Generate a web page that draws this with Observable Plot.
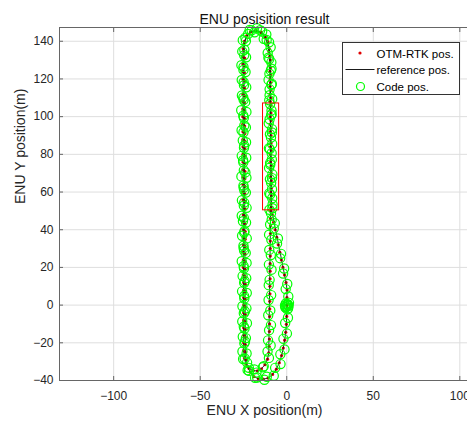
<!DOCTYPE html>
<html><head><meta charset="utf-8">
<script src="https://cdn.jsdelivr.net/npm/d3@7"></script>
<script src="https://cdn.jsdelivr.net/npm/@observablehq/plot@0.6"></script>
<style>
html,body{margin:0;padding:0;background:#fff;overflow:hidden;width:467px;height:425px}
#wrap{position:relative;width:470px;height:425px}
#legend{position:absolute;left:342px;top:42px}
</style></head><body><div id="wrap"></div>
<script>
const title = "ENU posisition result";
const xLabel = "ENU X position(m)";
const yLabel = "ENU Y position(m)";
const xTicks = [-100, -50, 0, 50, 100];
const yTicks = [-40, -20, 0, 20, 40, 60, 80, 100, 120, 140];
const xDomain = [-131.3, 105.6];
const yDomain = [-40, 147.3];
const legendLabels = ["OTM-RTK pos.", "reference pos.", "Code pos."];

// highlighted window (red box)
const boxX = [-13.7, -4.4];
const boxY = [50.3, 107];

// OTM-RTK positions
const rtkX = [
  0, 0, 0,
  0.1, 0.2, -0.4, -1.3, -2.2, -3.1, -4.0, -4.9, -5.8, -6.7, -7.6, -8.4, -9.0,
  -9.2, -9.2, -9.3, -9.3, -9.3, -9.3, -9.4, -9.4, -9.4, -9.4, -9.5, -9.5, -9.5, -9.5, -9.6, -9.6, -9.6, -9.7, -9.7, -9.8,
  -10.1, -10.9, -12.4, -14.8, -17.8, -20.7, -23.0, -24.5, -25.2,
  -25.4, -25.4, -25.4, -25.4, -25.4, -25.4, -25.4, -25.4, -25.4, -25.4,
  -25.3, -25.3, -25.3, -25.3, -25.3, -25.3, -25.3, -25.3, -25.3, -25.3,
  -25.1, -25.1, -25.1, -25.1, -25.1, -25.1, -25.1, -25.1, -25.1, -25.1,
  -24.9, -24.9, -24.9, -24.9, -24.9, -24.9, -24.9, -24.9, -24.9, -24.9,
  -24.5, -23.6, -21.8, -19.4, -16.9, -14.6, -12.6, -11.1, -10.4,
  -10.1, -10.0, -10.0, -9.9, -9.9, -9.8, -9.8, -9.7, -9.7, -9.6, -9.6, -9.6, -9.5, -9.5, -9.5, -9.4, -9.4, -9.4, -9.3,
  -8.9, -8.9, -8.9, -8.9, -9.0, -9.0, -9.0, -9.0, -9.0, -9.1, -9.1, -9.1, -9.1, -9.2, -9.2, -9.2, -9.3, -9.3, -9.4, -9.5,
  -10.3, -11.0, -12.5, -14.9, -17.9, -21.0, -23.2, -24.4, -24.9,
  -24.3, -24.3, -24.3, -24.3, -24.3, -24.3, -24.3, -24.3, -24.3, -24.3,
  -24.2, -24.2, -24.2, -24.2, -24.2, -24.2, -24.2, -24.2, -24.2, -24.2,
  -24.0, -24.0, -24.0, -24.0, -24.0, -24.0, -24.0, -24.0, -24.0, -24.0,
  -23.9, -23.9, -23.9, -23.9, -23.9, -23.9, -23.9, -23.9, -23.9, -23.9,
  -23.6, -22.6, -21.1, -19.0, -16.4, -13.6, -10.8, -8.2, -6.0, -4.3, -3.0, -2.0, -1.2, -0.6, -0.2, 0.0, 0.1, 0.0
];
const rtkY = [
  0, 0, 0,
  4, 8, 12, 16, 20, 24, 28, 32, 36, 40, 44, 48, 52,
  56, 60, 64, 68, 72, 76, 80, 84, 88, 92, 96, 100, 104, 108, 112, 116, 120, 124, 128, 132,
  136, 139.8, 142.8, 144.9, 145.8, 145.1, 143.0, 139.9, 136.2,
  132, 128, 124, 120, 116, 112, 108, 104, 100, 96,
  92, 88, 84, 80, 76, 72, 68, 64, 60, 56,
  52, 48, 44, 40, 36, 32, 28, 24, 20, 16,
  12, 8, 4, 0, -4, -8, -12, -16, -20, -24,
  -28, -31.3, -33.6, -34.8, -34.9, -33.8, -31.6, -28.7, -25.3,
  -22, -18, -14, -10, -6, -2, 2, 6, 10, 14, 18, 22, 26, 30, 34, 38, 42, 46, 50,
  54, 58, 62, 66, 70, 74, 78, 82, 86, 90, 94, 98, 102, 106, 110, 114, 118, 122, 126, 130,
  134.5, 138.6, 142.0, 144.4, 145.5, 144.9, 142.6, 139.2, 135.2,
  131, 127, 123, 119, 115, 111, 107, 103, 99, 95,
  91, 87, 83, 79, 75, 71, 67, 63, 59, 55,
  51, 47, 43, 39, 35, 31, 27, 23, 19, 15,
  11, 7, 3, -1, -5, -9, -13, -17, -21, -25,
  -29, -32.6, -35.6, -37.9, -39.1, -39.3, -38.7, -36.8, -34.0, -30.6, -26.8, -22.8, -18.6, -14.4, -10.2, -6.0, -2.0, 0.0
];

// reference trajectory
const refX = [0, 0.2, -0.4, -9.0, -9.8, -10.1, -10.9, -12.4, -14.8, -17.8, -20.7, -23.0, -24.5, -25.3, -24.9, -24.5, -23.6, -21.8, -19.4, -16.9, -14.6, -12.6, -11.1, -10.4, -9.3, -8.9, -9.5, -10.3, -11.0, -12.5, -14.9, -17.9, -21.0, -23.2, -24.4, -24.7, -23.9, -23.6, -22.6, -21.1, -19.0, -16.4, -13.6, -10.8, -8.2, -6.0, -4.3, -3.0, -2.0, -1.2, -0.6, -0.2, 0.0];
const refY = [0, 8, 12, 52, 132, 136, 139.8, 142.8, 144.9, 145.8, 145.1, 143.0, 139.9, 134, -24, -28, -31.3, -33.6, -34.8, -34.9, -33.8, -31.6, -28.7, -25.3, 50, 54, 130, 134.5, 138.6, 142.0, 144.4, 145.5, 144.9, 142.6, 139.2, 133, -25, -29, -32.6, -35.6, -37.9, -39.1, -39.3, -38.7, -36.8, -34.0, -30.6, -26.8, -22.8, -18.6, -14.4, -10.2, 0];

// Code positions
const codeX = [
  0.2, -0.8, 1.1, 0.4, -0.5, 1.3, 0.0, 0.8, -1.0, 0.5,
  0.9, -0.6, 0.3, -2.1, -1.5, -3.8, -3.3, -5.6, -5.1, -7.5, -6.9, -9.1, -8.3,
  -8.4, -10.1, -9.0, -8.5, -10.2, -9.6, -8.7, -10.3, -9.1, -8.6, -10.4, -9.0, -8.8, -10.1, -9.9, -8.9, -10.5, -9.2, -8.9, -10.6,
  -9.3, -11.6, -11.8, -15.4, -17.2, -21.4, -22.3, -25.4, -24.5,
  -24.6, -26.2, -25.0, -26.0, -24.7, -25.9, -24.9, -26.3, -25.1, -24.5,
  -26.1, -25.4, -24.6, -26.0, -25.2, -24.8, -26.2, -25.0, -24.5, -25.9,
  -24.8, -26.0, -25.3, -24.4, -25.8, -25.0, -24.6, -26.0, -24.9, -25.5,
  -24.3, -25.8, -24.6, -25.6, -24.2, -25.7, -24.8, -25.4, -24.1, -25.6,
  -25.2, -22.9, -22.6, -18.7, -17.5, -13.8, -13.3, -10.3, -11.1,
  -9.3, -10.8, -10.2, -9.1, -10.7, -9.5, -10.5, -9.0, -10.4, -9.9, -8.8, -10.3, -9.2, -10.1, -8.9, -10.2, -9.6, -8.7, -10.0,
  -8.2, -9.6, -8.5, -9.7, -8.3, -9.5, -8.6, -9.8, -8.4, -9.7, -8.5, -9.9, -8.7, -9.6, -8.4, -9.9, -8.6, -10.0, -8.8, -10.1,
  -11.0, -10.2, -13.3, -14.2, -18.6, -20.3, -23.9, -23.6, -25.7,
  -23.5, -25.0, -23.8, -24.9, -23.4, -25.1, -24.0, -23.3, -24.8, -23.6,
  -25.0, -23.5, -24.7, -23.4, -25.1, -23.9, -23.3, -24.9, -23.6, -24.6,
  -23.2, -24.8, -23.5, -24.6, -23.1, -24.9, -23.7, -23.2, -24.7, -23.4,
  -24.6, -23.1, -24.5, -23.3, -24.8, -23.0, -24.4, -23.6, -24.5, -23.2,
  -24.3, -21.9, -21.8, -18.3, -17.1, -12.9, -11.5, -7.5, -6.7, -3.6, -3.7, -1.3, -1.9, 0.1, -0.9, 0.7, -0.6, 0.6
];
const codeY = [
  0.5, -1.2, -0.4, -2.3, 0.9, 1.2, -0.8, -1.6, -0.2, 0.1,
  4.6, 8.5, 11.2, 16.8, 19.4, 24.9, 27.2, 32.7, 35.4, 40.6, 43.5, 48.8, 51.4,
  56.7, 59.3, 64.9, 67.4, 72.8, 75.5, 80.6, 83.2, 88.9, 91.6, 96.5, 100.8, 103.3, 108.7, 111.4, 116.9, 119.5, 124.4, 128.8, 131.3,
  136.8, 140.7, 143.6, 145.9, 146.9, 146.0, 143.9, 140.6, 135.5,
  132.6, 127.3, 124.8, 119.5, 116.7, 111.2, 108.9, 103.4, 100.5, 95.3,
  92.8, 87.4, 84.6, 79.2, 76.9, 71.5, 68.3, 63.4, 60.8, 55.6,
  52.7, 47.4, 44.5, 39.2, 36.8, 31.5, 28.9, 23.3, 20.6, 15.4,
  12.7, 7.3, 4.8, -0.6, -3.4, -8.7, -11.5, -16.8, -19.3, -24.6,
  -28.6, -30.5, -34.5, -34.1, -35.8, -33.0, -32.4, -28.0, -24.6,
  -21.4, -18.7, -13.3, -10.6, -5.4, -2.8, 2.7, 5.3, 10.6, 13.4, 18.8, 21.5, 26.6, 29.3, 34.7, 37.4, 42.8, 45.3, 50.6,
  53.4, 58.7, 61.5, 66.8, 69.4, 74.6, 77.3, 82.8, 85.5, 90.7, 93.4, 98.6, 101.3, 106.7, 109.4, 114.5, 117.3, 122.8, 125.4, 130.6,
  133.8, 139.5, 141.3, 145.2, 144.8, 145.8, 141.9, 140.1, 134.6,
  131.5, 126.4, 123.7, 118.3, 115.6, 110.2, 107.8, 102.5, 99.4, 94.3,
  91.7, 86.4, 83.5, 78.2, 75.8, 70.4, 67.6, 62.3, 59.7, 54.4,
  51.6, 46.3, 43.8, 38.5, 35.4, 30.2, 27.7, 22.4, 19.5, 14.3,
  11.8, 6.4, 3.5, -1.7, -4.3, -9.6, -12.4, -17.5, -20.3, -25.7,
  -28.3, -33.3, -34.9, -38.6, -38.4, -39.6, -38.0, -37.5, -33.3, -31.3, -26.1, -23.5, -17.9, -15.1, -9.5, -6.7, -1.3, 0.4
];

const zip = (xs, ys) => xs.slice(0, Math.min(xs.length, ys.length)).map((x, i) => ({x, y: ys[i]}));
const rtk = zip(rtkX, rtkY);
const ref = zip(refX, refY);
const code = zip(codeX, codeY);
const box = [{x1: boxX[0], x2: boxX[1], y1: boxY[0], y2: boxY[1]}];

const font = "'Liberation Sans', Arial, Helvetica, sans-serif";
const chart = Plot.plot({
  width: 470, height: 425,
  marginLeft: 59, marginRight: 1, marginTop: 27, marginBottom: 45,
  x: {domain: xDomain},
  y: {domain: yDomain},
  style: {fontFamily: font, fontSize: "12px", color: "#262626", background: "#fff", overflow: "visible"},
  marks: [
    Plot.gridX(xTicks, {stroke: "#dedede", strokeOpacity: 1}),
    Plot.gridY(yTicks, {stroke: "#dedede", strokeOpacity: 1}),
    Plot.dot(rtk, {x: "x", y: "y", r: 1.6, fill: "#e00000", stroke: null}),
    Plot.line(ref, {x: "x", y: "y", stroke: "#1a1a1a", strokeWidth: 0.9}),
    Plot.dot(code, {x: "x", y: "y", r: 4.6, stroke: "#00ff00", strokeWidth: 1.2, fill: "none"}),
    Plot.rect(box, {x1: "x1", x2: "x2", y1: "y1", y2: "y2", stroke: "#ff0000", fill: "none", strokeWidth: 1}),
    Plot.frame({stroke: "#666"}),
    Plot.axisX(xTicks, {anchor: "bottom", tickSize: -4, tickPadding: 15, label: null, fontSize: 12, stroke: "#666"}),
    Plot.axisX(xTicks, {anchor: "top", tickSize: -4, tickFormat: () => "", label: null, stroke: "#666"}),
    Plot.axisY(yTicks, {anchor: "left", tickSize: -4, tickPadding: 10, label: null, fontSize: 12, stroke: "#666"}),
    Plot.text([title], {frameAnchor: "top", dy: -13, fontSize: 14, fill: "#111"}),
    Plot.text([xLabel], {frameAnchor: "bottom", dy: 34.5, fontSize: 14, fill: "#262626"}),
    Plot.text([yLabel], {frameAnchor: "left", dx: -38.5, rotate: -90, fontSize: 14, fill: "#262626"})
  ]
});
const wrap = document.getElementById("wrap");
wrap.appendChild(chart);

const lg = document.createElement("div");
lg.id = "legend";
lg.innerHTML = `<svg width="118" height="53" xmlns="http://www.w3.org/2000/svg" style="font-family:${font};font-size:11.5px">
  <rect x="0.5" y="0.5" width="117" height="52" fill="#fff" stroke="#333" stroke-width="1"/>
  <circle cx="18" cy="11" r="1.6" fill="#e00000"/>
  <line x1="3.5" x2="32.5" y1="27.5" y2="27.5" stroke="#1a1a1a" stroke-width="1"/>
  <circle cx="18.5" cy="44.5" r="4" fill="none" stroke="#00ff00" stroke-width="1.2"/>
  <text x="34.5" y="15.5" fill="#000">${legendLabels[0]}</text>
  <text x="34.5" y="32" fill="#000">${legendLabels[1]}</text>
  <text x="34.5" y="49" fill="#000">${legendLabels[2]}</text>
</svg>`;
wrap.appendChild(lg);
</script></body></html>
